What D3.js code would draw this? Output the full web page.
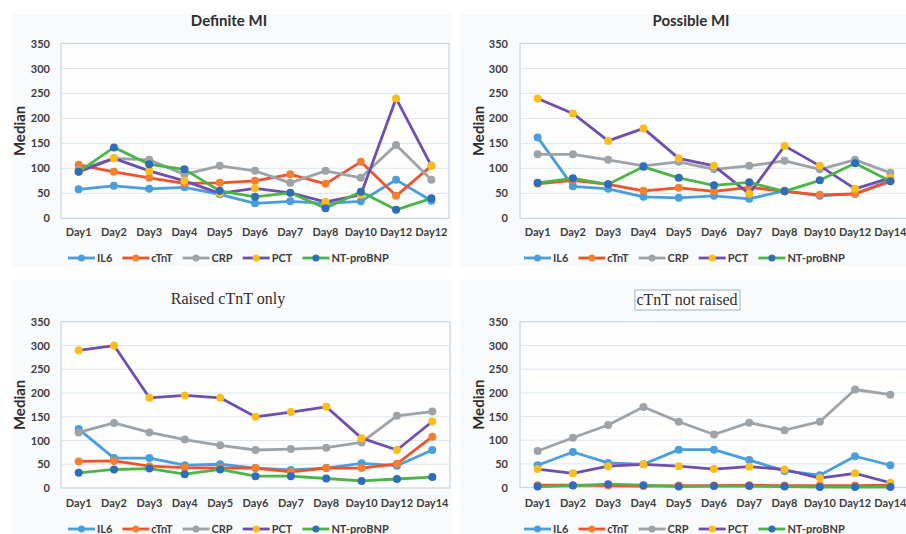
<!DOCTYPE html>
<html>
<head>
<meta charset="utf-8">
<script src="https://cdn.jsdelivr.net/npm/d3@7"></script>
<style>
  body { margin: 0; background: #fff; }
  text { font-family: Lato, "Open Sans", sans-serif; }
</style>
</head>
<body>
<svg id="chart" width="906" height="534"></svg>
<script>
(function () {
    // category labels (first panel repeats Day12, as in the original)
    var daysA = ['Day1', 'Day2', 'Day3', 'Day4', 'Day5', 'Day6', 'Day7', 'Day8', 'Day10', 'Day12', 'Day12'];
    var daysB = ['Day1', 'Day2', 'Day3', 'Day4', 'Day5', 'Day6', 'Day7', 'Day8', 'Day10', 'Day12', 'Day14'];
    var seriesNames = ['IL6', 'cTnT', 'CRP', 'PCT', 'NT-proBNP'];
    var yTicks = [0, 50, 100, 150, 200, 250, 300, 350];

    // Definite MI
    var definiteIL6  = [58, 65, 59, 62, 48, 30, 34, 30, 34, 77, 35];
    var definiteCTnT = [107, 93, 81, 70, 71, 75, 88, 69, 113, 45, 105];
    var definiteCRP  = [97, 120, 117, 88, 105, 95, 71, 95, 81, 147, 77];
    var definitePCT  = [93, 120, 95, 75, 50, 60, 51, 33, 47, 240, 105];
    var definiteBNP  = [93, 142, 108, 98, 55, 43, 51, 20, 53, 17, 40];

    // Possible MI
    var possibleIL6  = [162, 64, 59, 43, 41, 45, 39, 55, 45, 49, 76];
    var possibleCTnT = [69, 76, 68, 55, 61, 54, 62, 54, 47, 49, 74];
    var possibleCRP  = [128, 128, 117, 105, 113, 98, 105, 115, 98, 117, 91];
    var possiblePCT  = [240, 210, 155, 180, 120, 105, 49, 145, 105, 59, 81];
    var possibleBNP  = [71, 80, 68, 103, 81, 66, 72, 54, 76, 110, 74];

    // Raised cTnT only
    var raisedIL6  = [124, 63, 63, 48, 50, 42, 38, 42, 52, 47, 80];
    var raisedCTnT = [56, 57, 46, 43, 42, 42, 34, 42, 42, 51, 108];
    var raisedCRP  = [117, 137, 117, 102, 90, 80, 82, 85, 96, 152, 161];
    var raisedPCT  = [290, 300, 190, 195, 190, 150, 160, 171, 105, 80, 140];
    var raisedBNP  = [32, 39, 41, 29, 39, 25, 25, 20, 15, 19, 23];

    // cTnT not raised
    var notRaisedIL6  = [47, 75, 52, 49, 80, 80, 58, 35, 26, 66, 47];
    var notRaisedCTnT = [5, 5, 4, 3, 4, 4, 5, 4, 4, 4, 5];
    var notRaisedCRP  = [77, 105, 132, 170, 139, 112, 137, 121, 139, 207, 196];
    var notRaisedPCT  = [39, 30, 45, 49, 45, 39, 44, 38, 20, 30, 10];
    var notRaisedBNP  = [2, 4, 7, 5, 2, 3, 3, 2, 1, 1, 1];

    // line colour / marker colour per series
    var lineColors   = ['#4a9ede', '#f0532b', '#9ea3a7', '#6f4fae', '#4bb547'];
    var markerColors = ['#4a9ede', '#f3802f', '#9ea3a7', '#fbbd18', '#2f6cba'];

    var panels = [
        { title: 'Definite MI', serif: false, boxed: false, left: 61, right: 449, top: 43.5, bottom: 218.3,
          labels: daysA, data: [definiteIL6, definiteCTnT, definiteCRP, definitePCT, definiteBNP],
          titleX: 229, titleY: 26, axisX: 50, medianX: 25, labelY: 237, legendX: 68, legendY: 258 },
        { title: 'Possible MI', serif: false, boxed: false, left: 520, right: 908, top: 43.5, bottom: 218.3,
          labels: daysB, data: [possibleIL6, possibleCTnT, possibleCRP, possiblePCT, possibleBNP],
          titleX: 691, titleY: 26, axisX: 508, medianX: 484, labelY: 237, legendX: 524, legendY: 258 },
        { title: 'Raised cTnT only', serif: true, boxed: false, left: 61, right: 450, top: 321.8, bottom: 488,
          labels: daysB, data: [raisedIL6, raisedCTnT, raisedCRP, raisedPCT, raisedBNP],
          titleX: 228, titleY: 304, axisX: 50, medianX: 25, labelY: 508, legendX: 68, legendY: 529 },
        { title: 'cTnT not raised', serif: true, boxed: true, left: 520, right: 908, top: 321.8, bottom: 487.5,
          labels: daysB, data: [notRaisedIL6, notRaisedCTnT, notRaisedCRP, notRaisedPCT, notRaisedBNP],
          titleX: 687, titleY: 305, axisX: 508, medianX: 484, labelY: 508, legendX: 524, legendY: 529 }
    ];

    var svg = d3.select('#chart');

    // faint chart backgrounds
    svg.selectAll('rect.bg')
        .data([[12, 13, 440, 254], [460, 13, 446, 254], [12, 280, 440, 254], [460, 280, 446, 254]])
        .enter()
        .append('rect')
            .attr('x', function (d) { return d[0]; })
            .attr('y', function (d) { return d[1]; })
            .attr('width', function (d) { return d[2]; })
            .attr('height', function (d) { return d[3]; })
            .style('fill', '#f9fafc');

    panels.forEach(function (p) {
        var g = svg.append('g');
        var x = d3.scaleBand().domain(d3.range(p.labels.length)).range([p.left, p.right]);
        var y = d3.scaleLinear().domain([0, 350]).range([p.bottom, p.top]);

        g.append('rect')
            .attr('x', p.left).attr('y', p.top)
            .attr('width', p.right - p.left).attr('height', p.bottom - p.top)
            .style('fill', '#fdfdfe').style('stroke', '#c7d5df').style('stroke-width', 1.2);

        // gridlines
        g.selectAll('line.grid')
            .data(yTicks.slice(1, -1))
            .enter()
            .append('line')
                .attr('x1', p.left).attr('x2', p.right)
                .attr('y1', function (d) { return y(d); })
                .attr('y2', function (d) { return y(d); })
                .style('stroke', '#dce6ec').style('stroke-width', 1);

        // y axis labels
        var yAxis = d3.axisLeft(y).tickValues(yTicks).tickSize(0).tickPadding(0);
        var ya = g.append('g').attr('transform', 'translate(' + p.axisX + ',0)').call(yAxis);
        ya.select('.domain').remove();
        ya.selectAll('text').style('font-size', '11px').style('font-weight', 700).style('fill', '#3d3d3d');

        // x axis labels
        var xAxis = d3.axisBottom(x).tickSize(0).tickPadding(0)
            .tickFormat(function (i) { return p.labels[i]; });
        var xa = g.append('g').attr('transform', 'translate(0,' + (p.labelY - 9) + ')').call(xAxis);
        xa.select('.domain').remove();
        xa.selectAll('text').style('font-size', '11px').style('font-weight', 700).style('fill', '#3d3d3d');

        // y title
        g.append('text')
            .text('Median')
            .attr('transform', 'translate(' + p.medianX + ',' + ((p.top + p.bottom) / 2) + ') rotate(-90)')
            .attr('text-anchor', 'middle')
            .style('font-size', '15px').style('font-weight', 700).style('fill', '#2e2e2e');

        // title
        if (p.boxed) {
            g.append('rect')
                .attr('x', p.titleX - 52).attr('y', p.titleY - 15)
                .attr('width', 105).attr('height', 20)
                .style('fill', '#fff').style('stroke', '#a9c0ce').style('stroke-width', 1.2);
        }
        g.append('text')
            .text(p.title)
            .attr('x', p.titleX).attr('y', p.titleY)
            .attr('text-anchor', 'middle')
            .style('font-family', p.serif ? '"Liberation Serif", serif' : 'Lato, sans-serif')
            .style('font-size', p.serif ? '16px' : '15px')
            .style('font-weight', p.serif ? 400 : 700)
            .style('fill', '#2e2e2e');

        // series
        var line = d3.line()
            .x(function (d, i) { return x(i) + x.bandwidth() / 2; })
            .y(function (d) { return y(d); });

        p.data.forEach(function (vals, s) {
            g.append('path')
                .datum(vals)
                .attr('d', line)
                .style('fill', 'none')
                .style('stroke', lineColors[s])
                .style('stroke-width', 2.8)
                .style('stroke-linejoin', 'round');
            g.selectAll('circle.s' + s)
                .data(vals)
                .enter()
                .append('circle')
                    .attr('cx', function (d, i) { return x(i) + x.bandwidth() / 2; })
                    .attr('cy', function (d) { return y(d); })
                    .attr('r', 4)
                    .style('fill', markerColors[s]);
        });

        // legend
        var lx = p.legendX;
        seriesNames.forEach(function (name, s) {
            g.append('line')
                .attr('x1', lx).attr('x2', lx + 27)
                .attr('y1', p.legendY).attr('y2', p.legendY)
                .style('stroke', lineColors[s]).style('stroke-width', 2.8);
            g.append('circle')
                .attr('cx', lx + 13.5).attr('cy', p.legendY).attr('r', 3.5)
                .style('fill', markerColors[s]);
            var t = g.append('text')
                .text(name)
                .attr('x', lx + 29).attr('y', p.legendY + 4)
                .style('font-size', '11px').style('font-weight', 700).style('fill', '#3d3d3d');
            lx += 29 + t.node().getComputedTextLength() + 10;
        });
    });
})();
</script>
</body>
</html>
